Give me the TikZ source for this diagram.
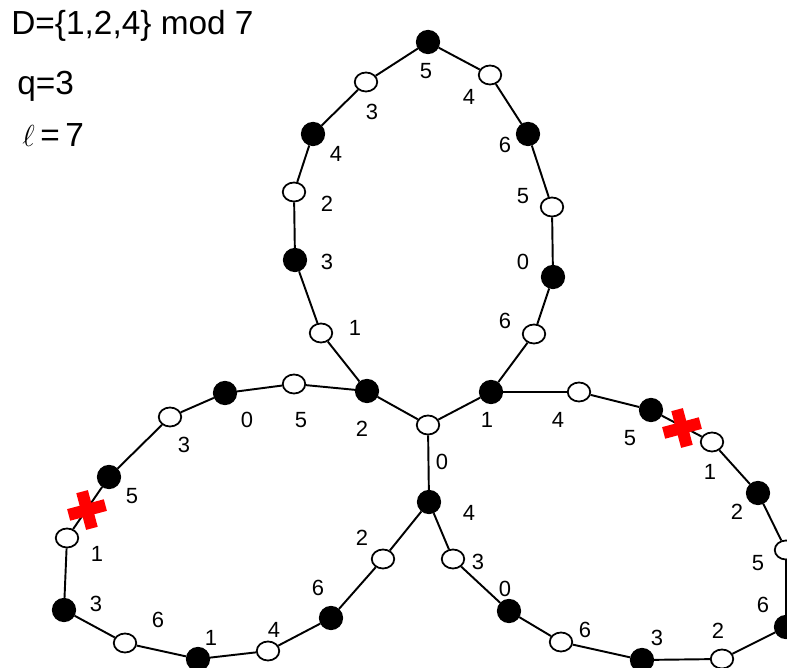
\documentclass[tikz,border=0pt]{standalone}
\usepackage{fontspec}
\setmainfont{Liberation Sans}
\usetikzlibrary{shapes.geometric}
\begin{document}
\begin{tikzpicture}[x=0.2mm,y=-0.2mm,
           node_style_black/.style={circle,draw=black,fill=black,inner sep=0pt,minimum size=4.5mm,line width=1pt},
           node_style_white/.style={ellipse,draw=black,fill=white,inner sep=0pt,minimum width=4.5mm,minimum height=3.8mm,line width=1pt},
           label_style/.style={inner sep=0pt,font=\fontsize{12.5}{14}\selectfont},
           title_style/.style={anchor=base west,inner sep=0pt,font=\fontsize{19}{22}\selectfont},
           edge_style/.style={draw=black,line width=1.1pt},
           cross_style/.style={fill=red}]
            \useasboundingbox (0,0) rectangle (787,668);
            \clip (0,0) rectangle (787,668);
            % header
            \node[title_style] (dset) at (11, 35)  {D=\{1,2,4\} mod 7};
            \node[title_style] (qval) at (17, 95)  {q=3};
            \node[title_style] (lval) at (22, 147) {$\ell$\,=\,7};
            % centre
            \node[node_style_white] (c0) at (428, 425) {};
            \node[node_style_black] (c4) at (429, 502) {};
            % upper loop
            \node[node_style_black] (t1) at (491, 392) {};
            \node[node_style_white] (t2) at (534, 334) {};
            \node[node_style_black] (t3) at (553, 277) {};
            \node[node_style_white] (t4) at (552, 207) {};
            \node[node_style_black] (t5) at (528, 134) {};
            \node[node_style_white] (t6) at (490, 75)  {};
            \node[node_style_black] (t7) at (428, 42)  {};
            \node[node_style_white] (t8) at (366, 82)  {};
            \node[node_style_black] (t9) at (313, 134) {};
            \node[node_style_white] (t10) at (294, 192) {};
            \node[node_style_black] (t11) at (295, 260) {};
            \node[node_style_white] (t12) at (321, 333) {};
            \node[node_style_black] (t13) at (367, 391) {};
            % left loop
            \node[node_style_white] (w1) at (294, 384) {};
            \node[node_style_black] (w2) at (225, 393) {};
            \node[node_style_white] (w3) at (170, 417) {};
            \node[node_style_black] (w4) at (109, 477) {};
            \node[node_style_white] (w5) at (67, 538)  {};
            \node[node_style_black] (w6) at (64, 610)  {};
            \node[node_style_white] (w7) at (125, 643) {};
            \node[node_style_black] (w8) at (198, 659) {};
            \node[node_style_white] (w9) at (268, 651) {};
            \node[node_style_black] (w10) at (331, 618) {};
            \node[node_style_white] (w11) at (383, 559) {};
            % right loop
            \node[node_style_white] (r1) at (579, 392) {};
            \node[node_style_black] (r2) at (651, 410) {};
            \node[node_style_white] (r3) at (712, 442) {};
            \node[node_style_black] (r4) at (758, 493) {};
            \node[node_style_white] (r5) at (786, 550) {};
            \node[node_style_black] (r6) at (786, 627) {};
            \node[node_style_white] (r7) at (722, 659) {};
            \node[node_style_black] (r8) at (642, 660) {};
            \node[node_style_white] (r9) at (561, 642) {};
            \node[node_style_black] (r10) at (509, 611) {};
            \node[node_style_white] (r11) at (453, 559) {};
            % residues
            \node[label_style] (nc0) at (442, 462) {0};
            \node[label_style] (nc4) at (469, 513) {4};
            \node[label_style] (nt1) at (487, 420) {1};
            \node[label_style] (nt2) at (505, 321) {6};
            \node[label_style] (nt3) at (523, 262) {0};
            \node[label_style] (nt4) at (523, 196) {5};
            \node[label_style] (nt5) at (505, 145) {6};
            \node[label_style] (nt6) at (469, 97)  {4};
            \node[label_style] (nt7) at (426, 71)  {5};
            \node[label_style] (nt8) at (372, 112) {3};
            \node[label_style] (nt9) at (336, 154) {4};
            \node[label_style] (nt10) at (327, 204) {2};
            \node[label_style] (nt11) at (327, 262) {3};
            \node[label_style] (nt12) at (355, 328) {1};
            \node[label_style] (nt13) at (362, 429) {2};
            \node[label_style] (nw1) at (301, 420) {5};
            \node[label_style] (nw2) at (247, 420) {0};
            \node[label_style] (nw3) at (184, 445) {3};
            \node[label_style] (nw4) at (132, 496) {5};
            \node[label_style] (nw5) at (97, 554)  {1};
            \node[label_style] (nw6) at (96, 604)  {3};
            \node[label_style] (nw7) at (158, 620) {6};
            \node[label_style] (nw8) at (211, 638) {1};
            \node[label_style] (nw9) at (274, 630) {4};
            \node[label_style] (nw10) at (318, 588) {6};
            \node[label_style] (nw11) at (362, 538) {2};
            \node[label_style] (nr1) at (558, 420) {4};
            \node[label_style] (nr2) at (630, 438) {5};
            \node[label_style] (nr3) at (710, 472) {1};
            \node[label_style] (nr4) at (737, 512) {2};
            \node[label_style] (nr5) at (758, 563) {5};
            \node[label_style] (nr6) at (763, 605) {6};
            \node[label_style] (nr7) at (718, 631) {2};
            \node[label_style] (nr8) at (657, 638) {3};
            \node[label_style] (nr9) at (585, 630) {6};
            \node[label_style] (nr10) at (505, 589) {0};
            \node[label_style] (nr11) at (478, 562) {3};
            % edges
            \draw[edge_style]  (t13) edge (c0);
            \draw[edge_style]  (c0) edge (t1);
            \draw[edge_style]  (c0) edge (c4);
            \draw[edge_style]  (t1) edge (t2);
            \draw[edge_style]  (t2) edge (t3);
            \draw[edge_style]  (t3) edge (t4);
            \draw[edge_style]  (t4) edge (t5);
            \draw[edge_style]  (t5) edge (t6);
            \draw[edge_style]  (t6) edge (t7);
            \draw[edge_style]  (t7) edge (t8);
            \draw[edge_style]  (t8) edge (t9);
            \draw[edge_style]  (t9) edge (t10);
            \draw[edge_style]  (t10) edge (t11);
            \draw[edge_style]  (t11) edge (t12);
            \draw[edge_style]  (t12) edge (t13);
            \draw[edge_style]  (t13) edge (w1);
            \draw[edge_style]  (w1) edge (w2);
            \draw[edge_style]  (w2) edge (w3);
            \draw[edge_style]  (w3) edge (w4);
            \draw[edge_style]  (w4) edge (w5);
            \draw[edge_style]  (w5) edge (w6);
            \draw[edge_style]  (w6) edge (w7);
            \draw[edge_style]  (w7) edge (w8);
            \draw[edge_style]  (w8) edge (w9);
            \draw[edge_style]  (w9) edge (w10);
            \draw[edge_style]  (w10) edge (w11);
            \draw[edge_style]  (w11) edge (c4);
            \draw[edge_style]  (t1) edge (r1);
            \draw[edge_style]  (r1) edge (r2);
            \draw[edge_style]  (r2) edge (r3);
            \draw[edge_style]  (r3) edge (r4);
            \draw[edge_style]  (r4) edge (r5);
            \draw[edge_style]  (r5) edge (r6);
            \draw[edge_style]  (r6) edge (r7);
            \draw[edge_style]  (r7) edge (r8);
            \draw[edge_style]  (r8) edge (r9);
            \draw[edge_style]  (r9) edge (r10);
            \draw[edge_style]  (r10) edge (r11);
            \draw[edge_style]  (r11) edge (c4);
            % broken links
            \foreach \cx/\cy in {87/510, 682/428}
                \fill[cross_style, shift={(\cx,\cy)}, rotate=15] (-19,-6) rectangle (19,6) (-6,-19) rectangle (6,19);
        \end{tikzpicture}
\end{document}
